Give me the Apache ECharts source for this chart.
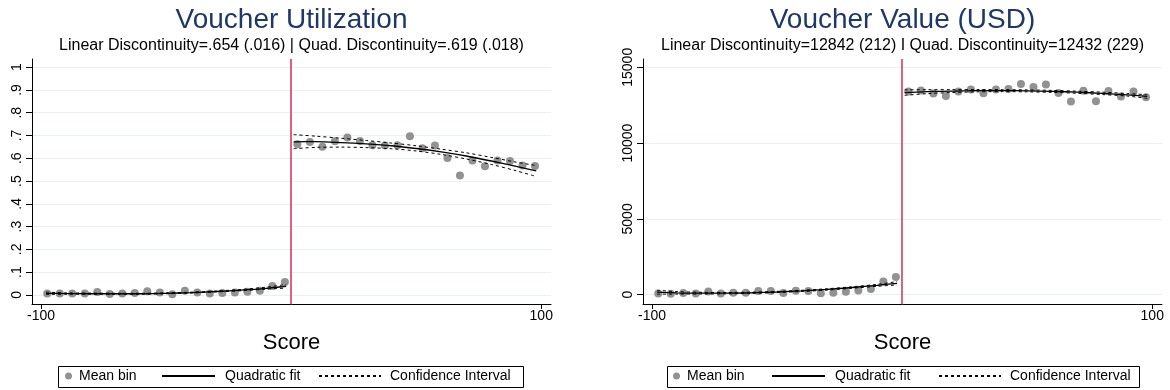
<!DOCTYPE html>
<html><head><meta charset="utf-8">
<script src="https://cdn.jsdelivr.net/npm/echarts@6/dist/echarts.min.js"></script>
<style>html,body{margin:0;padding:0;background:#fff}#c{width:1170px;height:390px}</style>
</head><body><div id="c"></div>
<script>
// ---------- data ----------
const binsLeft  = [-97.5,-92.5,-87.5,-82.5,-77.5,-72.5,-67.5,-62.5,-57.5,-52.5,-47.5,-42.5,-37.5,-32.5,-27.5,-22.5,-17.5,-12.5,-7.5,-2.5];
const binsRight = [2.5,7.5,12.5,17.5,22.5,27.5,32.5,37.5,42.5,47.5,52.5,57.5,62.5,67.5,72.5,77.5,82.5,87.5,92.5,97.5];
const fitXLeft  = [-98,-90,-80,-70,-60,-50,-40,-30,-20,-10,-2];
const fitXRight = [1,10,20,30,40,50,60,70,80,90,98];

// Voucher Utilization
const utilMeanLeft  = [.006,.006,.006,.006,.013,.004,.006,.008,.016,.011,.003,.018,.011,.006,.008,.011,.014,.018,.039,.057];
const utilMeanRight = [.662,.671,.651,.675,.691,.676,.657,.656,.657,.697,.644,.656,.601,.524,.590,.565,.590,.588,.568,.566];
const utilFitLeft   = [.007,.006,.005,.005,.005,.007,.010,.015,.021,.029,.038];
const utilUpLeft    = [.012,.009,.008,.007,.007,.009,.012,.017,.024,.034,.046];
const utilLoLeft    = [.002,.003,.003,.003,.003,.005,.008,.013,.018,.025,.030];
const utilFitRight  = [.672,.673,.669,.663,.655,.643,.628,.610,.588,.564,.545];
const utilUpRight   = [.704,.697,.688,.678,.667,.655,.640,.624,.604,.583,.568];
const utilLoRight   = [.642,.648,.649,.647,.642,.632,.617,.597,.573,.545,.520];
const utilTicks      = [0,.1,.2,.3,.4,.5,.6,.7,.8,.9,1];
const utilTickLabels = ['0','.1','.2','.3','.4','.5','.6','.7','.8','.9','1'];

// Voucher Value (USD)
const valMeanLeft  = [88,66,121,77,220,77,132,132,252,252,110,263,252,99,132,197,285,373,866,1174];
const valMeanRight = [13398,13464,13278,13102,13398,13540,13288,13530,13562,13892,13694,13859,13310,12740,13452,12762,13430,13068,13408,13024];
const valFitLeft   = [165,125,105,105,130,180,255,350,475,620,755];
const valUpLeft    = [290,205,160,150,170,220,295,395,525,685,865];
const valLoLeft    = [40,45,50,60,90,140,215,305,425,555,645];
const valFitRight  = [13330,13390,13430,13455,13460,13445,13410,13355,13280,13185,13080];
const valUpRight   = [13510,13520,13525,13530,13525,13510,13475,13425,13360,13270,13190];
const valLoRight   = [13150,13260,13335,13380,13395,13380,13345,13285,13200,13100,12950];
const valTicks      = [0,5000,10000,15000];
const valTickLabels = ['0','5000','10000','15000'];

const xTicks      = [-100,100];
const xTickLabels = ['-100','100'];
const cutoff = 0;

const titles    = ['Voucher Utilization','Voucher Value (USD)'];
const subtitles = ['Linear Discontinuity=.654 (.016) | Quad. Discontinuity=.619 (.018)',
                   'Linear Discontinuity=12842 (212) I Quad. Discontinuity=12432 (229)'];
const xTitle = 'Score';
const legendNames = ['Mean bin','Quadratic fit','Confidence Interval'];

// ---------- chart ----------
const FONT = "'Liberation Sans', Arial, Helvetica, sans-serif";
const pairs = (xs, ys) => xs.map((x, i) => [x, ys[i]]);
const labelFor = (ticks, labels) => v => {
  const i = ticks.findIndex(t => Math.abs(t - v) < 1e-9);
  return i >= 0 ? labels[i] : '';
};

const panels = [
  {grid:{left:32, right:619, top:59, bottom:86}, center:291.5, ymin:-0.04, ymax:1.036,
   ticks:utilTicks, labels:utilTickLabels,
   mL:utilMeanLeft, mR:utilMeanRight, fL:utilFitLeft, uL:utilUpLeft, lL:utilLoLeft,
   fR:utilFitRight, uR:utilUpRight, lR:utilLoRight, legX:[65,161,318], box:[58,523]},
  {grid:{left:643, right:8, top:59, bottom:86}, center:902.5, ymin:-612, ymax:15546,
   ticks:valTicks, labels:valTickLabels,
   mL:valMeanLeft, mR:valMeanRight, fL:valFitLeft, uL:valUpLeft, lL:valLoLeft,
   fR:valFitRight, uR:valUpRight, lR:valLoRight, legX:[673,771,938], box:[667,1139]}
];

const option = {
  animation:false,
  backgroundColor:'#fff',
  title:[], grid:[], xAxis:[], yAxis:[], series:[], legend:[], graphic:[]
};

panels.forEach((p, k) => {
  option.grid.push(p.grid);
  option.title.push({text:titles[k], left:p.center, textAlign:'center', top:6, padding:0,
    textStyle:{fontSize:28, fontWeight:'normal', color:'#1f3868', fontFamily:FONT}});
  option.title.push({text:subtitles[k], left:p.center, textAlign:'center', top:38, padding:0,
    textStyle:{fontSize:16, fontWeight:'normal', color:'#000', fontFamily:FONT}});
  option.xAxis.push({type:'value', gridIndex:k, min:-103.6, max:103.9,
    name:xTitle, nameLocation:'middle', nameGap:28,
    nameTextStyle:{fontSize:22, color:'#000', fontFamily:FONT},
    axisLine:{onZero:false, lineStyle:{color:'#000', width:1}},
    axisTick:{show:true, length:5, customValues:xTicks, lineStyle:{color:'#000'}},
    axisLabel:{customValues:xTicks, formatter:labelFor(xTicks, xTickLabels), fontSize:14, color:'#000', margin:5, fontFamily:FONT},
    splitLine:{show:false}});
  option.yAxis.push({type:'value', gridIndex:k, min:p.ymin, max:p.ymax,
    axisLine:{show:true, onZero:false, lineStyle:{color:'#000', width:1}},
    axisTick:{show:true, length:6, customValues:p.ticks, lineStyle:{color:'#000'}},
    axisLabel:{customValues:p.ticks, formatter:labelFor(p.ticks, p.labels), rotate:90, fontSize:14, color:'#000', margin:8, fontFamily:FONT},
    splitLine:{show:true, lineStyle:{color:'#e8f0f2', width:1}}});
  option.series.push({type:'scatter', name:legendNames[0], xAxisIndex:k, yAxisIndex:k,
    data:pairs(binsLeft, p.mL).concat(pairs(binsRight, p.mR)),
    symbolSize:8, itemStyle:{color:'#777777'}, z:2,
    markLine:{silent:true, symbol:'none', label:{show:false},
      lineStyle:{color:'#d83a60', width:1.6, type:'solid'}, data:[{xAxis:cutoff}]}});
  const line = (name, xs, ys, dashed) => ({type:'line', name, xAxisIndex:k, yAxisIndex:k,
    data:pairs(xs, ys), symbol:'none', smooth:0.3, z:3,
    lineStyle:{color:'#000', width:dashed ? 1 : 1.3, type:dashed ? [3,3] : 'solid'},
    itemStyle:{color:'#000'}});
  option.series.push(line(legendNames[1], fitXLeft, p.fL, false));
  option.series.push(line(legendNames[1], fitXRight, p.fR, false));
  option.series.push(line(legendNames[2], fitXLeft, p.uL, true));
  option.series.push(line(legendNames[2], fitXLeft, p.lL, true));
  option.series.push(line(legendNames[2], fitXRight, p.uR, true));
  option.series.push(line(legendNames[2], fitXRight, p.lR, true));
  const ts = {fontSize:14, color:'#000', fontFamily:FONT};
  const hidden = {opacity:0, color:'rgba(0,0,0,0)', borderColor:'rgba(0,0,0,0)', borderWidth:0};
  option.legend.push({data:[{name:legendNames[0], icon:'circle'}], left:p.legX[0], top:369, padding:0,
    itemWidth:7, itemHeight:7, selectedMode:false, textStyle:Object.assign({padding:[0,0,0,2]}, ts)});
  option.legend.push({data:[legendNames[1]], left:p.legX[1], top:369, padding:0,
    itemWidth:53, itemHeight:12, selectedMode:false, itemStyle:hidden,
    textStyle:Object.assign({padding:[0,0,0,5]}, ts)});
  option.legend.push({data:[legendNames[2]], left:p.legX[2], top:369, padding:0,
    itemWidth:62, itemHeight:12, selectedMode:false, itemStyle:hidden,
    textStyle:Object.assign({padding:[0,0,0,4]}, ts)});
  option.graphic.push({type:'rect', silent:true, shape:{x:p.box[0]+0.5, y:366.5, width:p.box[1]-p.box[0], height:21},
    style:{fill:'none', stroke:'#000', lineWidth:1}});
});

const chart = echarts.init(document.getElementById('c'), null, {renderer:'canvas'});
chart.setOption(option);
</script>
</body></html>
